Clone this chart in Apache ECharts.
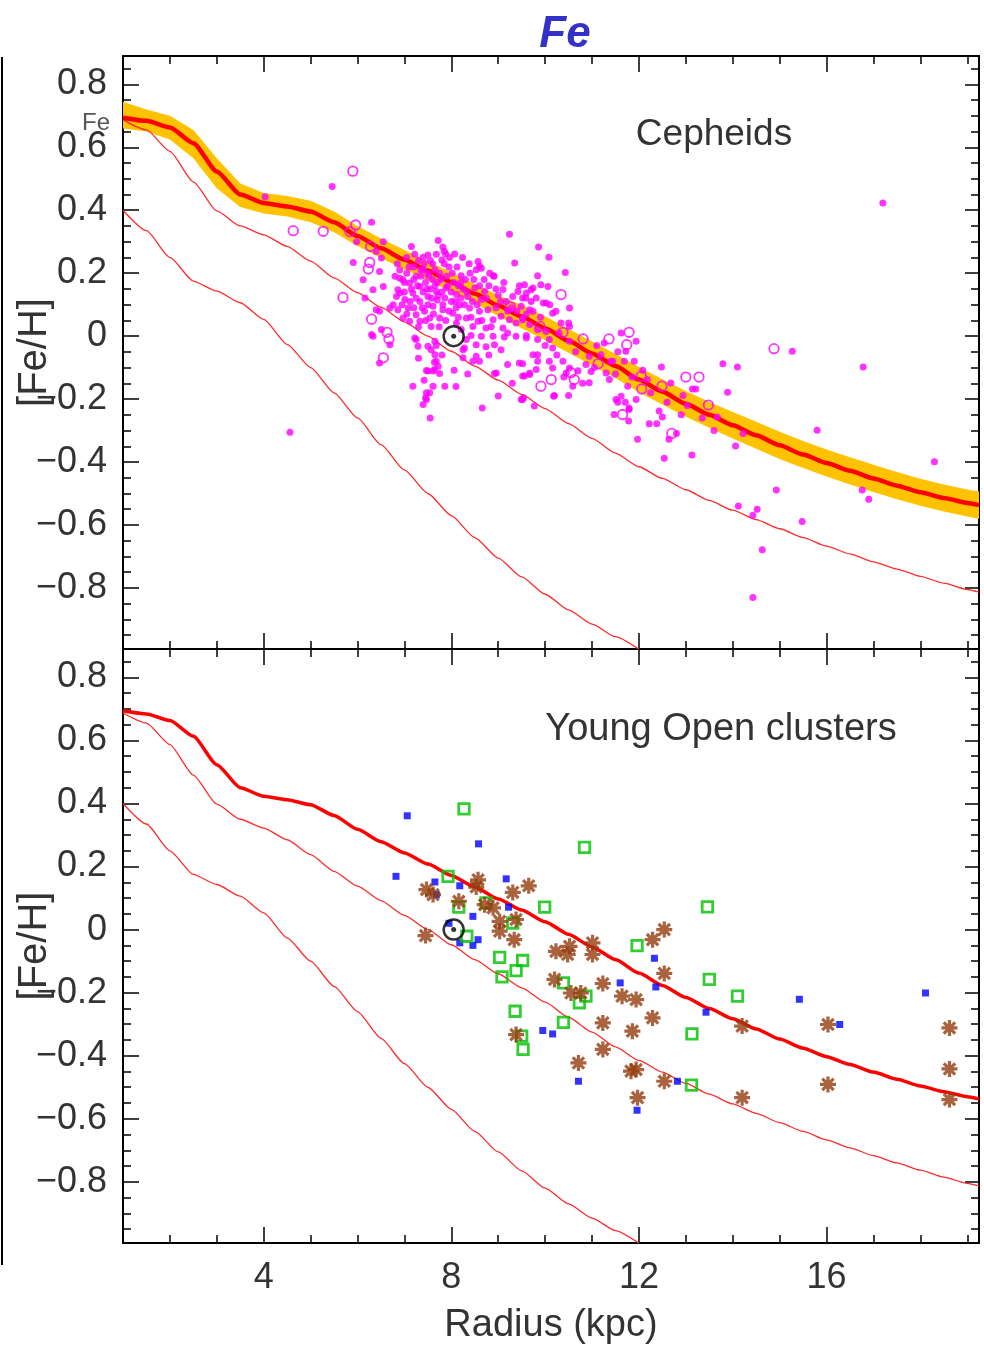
<!DOCTYPE html>
<html>
<head>
<meta charset="utf-8">
<script src="https://cdn.jsdelivr.net/npm/echarts@6/dist/echarts.min.js"></script>
<style>
html,body{margin:0;padding:0;background:#fff;}
#chart{width:984px;height:1355px;}
</style>
</head>
<body>
<div id="chart"></div>
<script>
// ---------------- DATA ----------------
const X_MIN = 1.0, X_MAX = 19.25, Y_MIN = -0.994, Y_MAX = 0.89;

const xMajorTicks = [4, 8, 12, 16];
const xMinorTicks = [1,2,3,4,5,6,7,8,9,10,11,12,13,14,15,16,17,18,19];
const yMajorTicks = [-0.8, -0.6, -0.4, -0.2, 0, 0.2, 0.4, 0.6, 0.8];
const yMinorTicks = [-0.95,-0.9,-0.85,-0.8,-0.75,-0.7,-0.65,-0.6,-0.55,-0.5,-0.45,-0.4,-0.35,-0.3,-0.25,-0.2,-0.15,-0.1,-0.05,0,0.05,0.1,0.15,0.2,0.25,0.3,0.35,0.4,0.45,0.5,0.55,0.6,0.65,0.7,0.75,0.8,0.85];

// model curves (radius grid, kpc)
const modelX = [1, 1.5, 2, 2.5, 3, 3.5, 4, 4.5, 5, 5.5, 6, 6.5, 7, 7.5, 8, 8.5, 9, 9.5, 10, 10.5, 11, 11.5, 12, 12.5, 13, 13.5, 14, 14.5, 15, 15.5, 16, 16.5, 17, 17.5, 18, 18.5, 19, 19.25];
// thick model line
const modelMain = [0.694, 0.684, 0.663, 0.613, 0.523, 0.45, 0.423, 0.412, 0.396, 0.362, 0.318, 0.279, 0.243, 0.208, 0.172, 0.135, 0.097, 0.062, 0.025, -0.015, -0.055, -0.095, -0.138, -0.177, -0.215, -0.25, -0.283, -0.315, -0.347, -0.376, -0.403, -0.428, -0.452, -0.475, -0.496, -0.514, -0.53, -0.537];
// uncertainty band around the thick line (Cepheid panel)
const bandHigh = [0.745, 0.72, 0.70, 0.655, 0.565, 0.485, 0.455, 0.445, 0.43, 0.396, 0.35, 0.31, 0.274, 0.239, 0.203, 0.166, 0.13, 0.099, 0.063, 0.023, -0.017, -0.057, -0.098, -0.137, -0.174, -0.209, -0.241, -0.272, -0.304, -0.333, -0.36, -0.385, -0.409, -0.432, -0.453, -0.471, -0.487, -0.494];
const bandLow  = [0.66, 0.65, 0.625, 0.565, 0.47, 0.41, 0.39, 0.38, 0.362, 0.33, 0.286, 0.248, 0.212, 0.177, 0.141, 0.104, 0.064, 0.025, -0.013, -0.053, -0.093, -0.133, -0.178, -0.217, -0.256, -0.291, -0.325, -0.358, -0.39, -0.419, -0.446, -0.471, -0.495, -0.518, -0.539, -0.557, -0.573, -0.58];
// thin model lines
const modelMid = [0.687, 0.655, 0.587, 0.49, 0.398, 0.35, 0.322, 0.285, 0.238, 0.185, 0.138, 0.092, 0.045, 0.0, -0.048, -0.095, -0.14, -0.185, -0.23, -0.278, -0.325, -0.372, -0.415, -0.452, -0.488, -0.522, -0.553, -0.583, -0.612, -0.64, -0.667, -0.692, -0.717, -0.74, -0.763, -0.785, -0.805, -0.813];
const modelLow = [0.40, 0.335, 0.25, 0.175, 0.143, 0.106, 0.053, -0.026, -0.10, -0.18, -0.26, -0.345, -0.425, -0.50, -0.57, -0.64, -0.705, -0.765, -0.82, -0.87, -0.915, -0.955, -0.995, null, null, null, null, null, null, null, null, null, null, null, null, null, null, null];

const sunPos = [8.05, 0.0];

// Cepheids: filled dots
const cepheidDots = [
 [4.03,0.443],[5.46,0.475],[4.56,-0.305],[17.2,0.423],[15.27,-0.048],[16.78,-0.098],[18.3,-0.399],[14.93,-0.489],[16.76,-0.489],[16.9,-0.518],
 [14.12,-0.54],[14.52,-0.55],[14.43,-0.569],[15.48,-0.589],[14.63,-0.679],[14.43,-0.83],[15.8,-0.299],
 [9.56,0.163],[9.74,0.153],[9.91,0.163],[9.81,0.121],[9.96,0.105],[9.59,0.121],[9.74,0.079],[10.16,0.073],[10.23,0.079],[10.52,0.089],
 [10.34,0.042],[10.5,0.042],[9.52,0.052],[9.6,-0.006],[9.84,-0.011],[10.09,-0.011],[10.52,-0.016],[10.16,-0.038],[9.84,-0.059],[9.84,-0.08],
 [10.09,-0.08],[10.38,-0.08],[10.16,-0.101],[10.52,-0.101],[9.52,-0.088],[9.56,-0.127],[9.67,-0.122],[9.49,-0.201],[10.2,-0.189],[10.5,-0.189],
 [10.59,-0.159],[10.94,-0.064],[10.87,-0.09],[11.3,-0.117],[11.37,-0.138],[11.44,-0.08],[11.69,-0.08],[11.9,-0.08],[11.94,-0.016],[11.72,-0.048],
 [11.62,0.01],[11.76,-0.159],[11.62,-0.191],[11.55,-0.21],[11.71,-0.21],[11.79,-0.228],[11.78,-0.27],[11.47,-0.249],[11.97,-0.328],[12.08,-0.108],
 [12.18,-0.138],[12.48,-0.098],[12.68,-0.149],[12.43,-0.238],[12.5,-0.257],[12.22,-0.278],[12.38,-0.278],[12.8,-0.309],[12.64,-0.328],[12.54,-0.388],
 [13.13,-0.378],[12.94,-0.189],[13.14,-0.168],[13.21,-0.168],[13.03,-0.22],[13.67,-0.257],[13.79,-0.088],[14.1,-0.098],[13.89,-0.178],[14.22,-0.309],[14.06,-0.349],
 [6.3,0.362],[5.98,0.3],[6.55,0.3],[5.91,0.234],[6.47,0.205],[6.16,0.121],[6.33,0.147],[6.47,0.079],[6.3,0.005],[6.69,-0.027],[6.47,-0.085],
 [9.24,0.324],[9.86,0.283],[10.08,0.251],[9.35,0.232],[8.64,0.216],[8.53,0.211],[8.91,0.19],[10.43,0.202],[9.84,0.192],[10.06,0.158],[9.7,0.147],
 [10.02,0.105],[10.52,0.031],[9.52,0.121],[9.67,0.084],[10.02,0.015],[10.45,-0.117],[10.18,-0.191],[9.54,-0.196],[9.45,-0.085],[9.67,-0.117],
 [8.96,-0.117],[8.66,-0.228],[8.46,-0.08],[8.25,-0.043],[7.86,-0.159],[8.06,-0.108],[7.18,-0.159],[7.47,-0.18],[7.45,-0.196],[7.61,-0.159],
 [7.47,-0.109],[7.64,-0.106],[7.64,-0.083],[10.94,-0.148],[10.98,-0.112],[11.51,-0.201],[11.79,-0.233],[11.94,-0.201],[11.26,-0.022],[11.19,-0.059],[11.4,-0.08],
 [6.12,0.179],[6.55,0.158],[6.9,0.184],[6.9,0.137],[6.76,0.1],[6.4,0.084],[6.51,0.021],[7.25,-0.011],[7.29,-0.032],
 [7.72,0.304],[7.15,0.285],[7.82,0.283],[7.88,0.261],[8.07,0.261],[7.5,0.258],[7.4,0.251],[7.8,0.242],[6.4,0.269],[6.51,0.248],[8.6,0.223],[8.9,0.192],[8.21,0.192],
 [6.97,0.179],[6.86,0.147],[7.11,0.169],[7.25,0.19],[7.4,0.211],[7.5,0.2],[7.65,0.211],[7.33,0.158],[7.18,0.137],[7.01,0.116],[6.83,0.126],[6.69,0.089],
 [7.08,0.089],[7.33,0.11],[7.5,0.126],[7.68,0.142],[7.89,0.153],[7.86,0.121],[8.0,0.11],[8.11,0.132],[8.18,0.1],[8.35,0.126],[8.5,0.153],[8.71,0.142],
 [8.64,0.116],[8.39,0.089],[8.6,0.079],[8.78,0.084],[8.03,0.073],[7.82,0.084],[7.61,0.095],[7.43,0.079],[7.25,0.068],[7.11,0.047],[7.33,0.047],[7.54,0.058],
 [7.75,0.058],[7.57,0.031],[6.97,0.058],[6.86,0.084],[8.11,0.042],[8.32,0.058],[8.46,0.031],[8.57,0.047],[8.74,0.026],[8.89,0.052],[9.06,0.063],[9.1,0.026],
 [9.24,0.052],[9.38,0.042],[9.52,0.058],[9.17,0.11],[9.31,0.126],[9.49,0.095],[9.67,0.037],[9.84,0.021],[9.6,0.002],[9.38,0.0],[9.13,-0.003],[8.89,0.0],
 [8.64,0.0],[8.42,0.002],[8.32,-0.011],[8.21,0.021],[8.53,-0.027],[8.74,-0.034],[8.92,-0.027],[9.06,-0.043],[8.28,-0.038],[8.53,-0.064],[7.65,-0.016],
 [7.5,-0.032],[7.57,-0.043],[7.22,-0.006],[7.65,-0.059],[7.68,-0.08],[7.72,-0.096],[7.61,-0.111],[7.5,-0.111],[7.75,-0.119],[8.25,-0.069],[8.92,-0.119],
 [9.74,-0.059],[9.81,-0.106],[9.52,-0.127],[7.54,-0.18],[7.47,-0.201],[7.4,-0.217],[9.52,-0.201],[9.77,-0.222],[6.33,0.0],
 [8.57,0.237],[9.42,0.142],[9.6,0.137],[9.1,0.148],
 [7.2,0.22],[7.3,0.24],[7.45,0.17],[7.55,0.15],[7.6,0.18],[7.7,0.17],[7.75,0.2],[7.9,0.19],[7.95,0.22],[8.05,0.17],[8.15,0.16],[8.25,0.15],
 [7.05,0.2],[7.15,0.15],[7.35,0.19],[7.4,0.14],[7.5,0.1],[7.7,0.115],[7.8,0.14],[7.95,0.08],[8.1,0.09],[7.25,0.12],[7.0,0.14],[6.9,0.21],
 [7.05,0.25],[7.6,0.23],[7.85,0.23],[8.3,0.18],[8.4,0.2],[8.7,0.18],[8.8,0.16],[9.0,0.13],[9.2,0.08],[8.95,0.09],[8.45,0.11],[8.2,0.12],
 [6.8,0.19],[6.85,0.23],[6.95,0.1],[7.0,0.17],[7.05,0.07],[7.1,0.22],[7.12,0.11],[7.2,0.18],[7.2,0.09],[7.22,0.26],[7.28,0.16],[7.3,0.03],
 [7.35,0.21],[7.38,0.09],[7.42,0.23],[7.45,0.05],[7.48,0.15],[7.52,0.19],[7.55,0.24],[7.58,0.12],[7.62,0.07],[7.65,0.16],[7.68,0.26],[7.72,0.13],
 [7.74,0.03],[7.78,0.18],[7.82,0.1],[7.85,0.27],[7.88,0.05],[7.92,0.16],[7.96,0.25],[8.0,0.14],[8.02,0.2],[8.08,0.11],[8.12,0.22],[8.15,0.06],
 [8.2,0.17],[8.24,0.25],[8.28,0.1],[8.33,0.14],[8.38,0.23],[8.42,0.06],[8.48,0.18],[8.55,0.1],[8.6,0.16],[8.65,0.05],[8.75,0.12],[8.82,0.2],
 [8.85,0.03],[8.95,0.15],[9.05,0.11],[9.12,0.17],[9.2,0.01],[9.28,0.09],[9.4,0.08],[9.45,0.16],[9.6,0.07],[9.7,0.11],[9.9,0.06],[10.0,-0.03],
 [10.1,0.1],[10.25,-0.06],[10.3,0.01],[10.4,-0.13],[10.65,-0.05],[10.7,-0.11],[10.8,-0.15],[11.05,-0.1],[11.1,-0.03],[11.5,-0.12],[11.55,-0.05],
 [11.85,-0.13],[12.25,-0.18],[12.6,-0.21],[12.9,-0.25],[13.35,-0.26],[13.6,-0.3],[7.3,-0.07],[7.42,-0.14],[7.55,-0.26],[7.68,-0.03],[7.8,-0.06],
 [8.1,-0.16],[8.35,-0.12],[8.6,-0.08],[8.8,-0.06],[9.2,-0.09],[9.3,-0.15],[9.0,-0.19]
];
// Cepheids: open circles
const cepheidOpen = [
 [4.63,0.335],[5.27,0.333],[5.9,0.524],[5.96,0.353],[5.84,0.332],[6.28,0.285],[6.26,0.234],[6.23,0.213],[5.69,0.123],[6.3,0.054],[6.63,0.012],
 [6.67,-0.009],[6.55,-0.069],[9.26,0.093],[9.89,0.031],[10.34,0.132],[10.38,0.012],[10.81,-0.009],[11.36,-0.009],[11.79,0.012],[11.74,-0.027],
 [10.55,-0.116],[10.62,-0.138],[10.13,-0.138],[9.91,-0.159],[11.13,-0.088],[11.65,-0.249],[12.05,-0.127],[12.06,-0.168],[12.49,-0.159],[13.0,-0.13],
 [13.28,-0.13],[13.48,-0.219],[12.7,-0.309],[14.88,-0.04]
];

// Young open clusters (three samples)
const clustersBlue = [
 [7.06,0.361],[8.58,0.272],[6.82,0.169],[7.65,0.151],[8.18,0.139],[8.46,0.042],[8.18,-0.042],[8.46,-0.05],[8.57,-0.032],[7.68,0.111],[7.95,0.02],
 [9.17,0.161],[9.22,0.071],[12.33,-0.091],[11.6,-0.169],[12.36,-0.182],[13.43,-0.262],[9.95,-0.32],[10.16,-0.331],[10.71,-0.481],[12.82,-0.481],
 [11.96,-0.573],[15.42,-0.221],[16.28,-0.301],[18.11,-0.201]
];
const clustersGreen = [
 [8.27,0.383],[10.84,0.261],[7.93,0.169],[9.99,0.071],[8.74,0.085],[8.16,0.071],[8.33,-0.021],[9.03,-0.088],[9.52,-0.098],[9.31,0.021],[13.46,0.072],
 [11.96,-0.051],[9.38,-0.13],[9.08,-0.15],[10.39,-0.169],[13.5,-0.158],[14.1,-0.211],[10.87,-0.211],[10.73,-0.232],[9.36,-0.259],[10.39,-0.294],
 [13.13,-0.331],[9.5,-0.338],[9.53,-0.38],[13.12,-0.493]
];
const clustersBrown = [
 [7.47,0.127],[7.61,0.111],[8.57,0.158],[8.53,0.135],[9.31,0.118],[9.65,0.139],[8.16,0.09],[8.71,0.079],[8.89,0.069],[7.45,-0.019],[9.03,0.026],
 [9.38,0.032],[9.03,-0.005],[9.34,-0.032],[10.23,-0.069],[10.52,-0.053],[11.01,-0.042],[10.48,-0.079],[11.01,-0.079],[12.29,-0.032],[12.54,0.0],
 [12.54,-0.139],[10.2,-0.158],[11.23,-0.171],[10.55,-0.201],[10.76,-0.201],[11.64,-0.211],[11.94,-0.222],[12.29,-0.28],[11.23,-0.296],[11.86,-0.322],
 [9.38,-0.333],[11.23,-0.38],[10.71,-0.423],[11.94,-0.444],[11.83,-0.449],[12.54,-0.481],[11.97,-0.533],[14.2,-0.306],[14.2,-0.533],[16.03,-0.301],
 [16.03,-0.491],[18.62,-0.312],[18.62,-0.442],[18.62,-0.539]
];

// ---------------- CHART ----------------
const FONT = 'Liberation Sans';
const TXT = '#333';
const chart = echarts.init(document.getElementById('chart'), null, {renderer: 'canvas'});

const grids = [
  {left: 123, top: 56, width: 856, height: 593, containLabel: false, outerBoundsMode: 'none'},
  {left: 123, top: 649, width: 856, height: 594, containLabel: false, outerBoundsMode: 'none'}
];

function fmtY(v) {
  if (Math.abs(v) < 1e-9) return '0';
  return (v < 0 ? '\u2212' : '') + Math.abs(v).toFixed(1);
}

function makeX(g, withLabels) {
  const base = {gridIndex: g, type: 'value', min: X_MIN, max: X_MAX, splitLine: {show: false}, silent: true};
  const line = {show: true, onZero: false, lineStyle: {color: '#000', width: 2}};
  const noLine = {show: false, onZero: false};
  const tickMaj = () => ({show: true, inside: true, length: 16, customValues: xMajorTicks, lineStyle: {color: '#000', width: 1.5}});
  const tickMin = {show: true, inside: true, length: 8, customValues: xMinorTicks, lineStyle: {color: '#000', width: 1.5}};
  const bottomMajor = Object.assign({}, base, {
    position: 'bottom', axisLine: line, axisTick: tickMaj(),
    axisLabel: withLabels ? {show: true, customValues: xMajorTicks, margin: 17, fontSize: 36, color: TXT, fontFamily: FONT} : {show: false}
  });
  if (withLabels) {
    bottomMajor.name = 'Radius (kpc)';
    bottomMajor.nameLocation = 'middle';
    bottomMajor.nameGap = 64;
    bottomMajor.nameMoveOverlap = false;
    bottomMajor.nameTextStyle = {fontSize: 38, color: TXT, fontFamily: FONT};
  }
  return [
    bottomMajor,
    Object.assign({}, base, {position: 'bottom', axisLine: noLine, axisTick: tickMin, axisLabel: {show: false}}),
    Object.assign({}, base, {position: 'top', axisLine: line, axisTick: tickMaj(), axisLabel: {show: false}}),
    Object.assign({}, base, {position: 'top', axisLine: noLine, axisTick: tickMin, axisLabel: {show: false}})
  ];
}

function makeY(g) {
  const base = {gridIndex: g, type: 'value', min: Y_MIN, max: Y_MAX, splitLine: {show: false}, silent: true};
  const line = {show: true, onZero: false, lineStyle: {color: '#000', width: 2}};
  const noLine = {show: false, onZero: false};
  const tickMaj = {show: true, inside: true, length: 16, customValues: yMajorTicks, lineStyle: {color: '#000', width: 1.5}};
  const tickMin = {show: true, inside: true, length: 8, customValues: yMinorTicks, lineStyle: {color: '#000', width: 1.5}};
  return [
    Object.assign({}, base, {
      position: 'left', axisLine: line, axisTick: tickMaj,
      axisLabel: {show: true, customValues: yMajorTicks, formatter: fmtY, margin: 16, fontSize: 36, color: TXT, fontFamily: FONT},
      name: '[Fe/H]', nameLocation: 'middle', nameRotate: 90, nameGap: 68, nameMoveOverlap: false,
      nameTextStyle: {fontSize: 40, color: TXT, fontFamily: FONT}
    }),
    Object.assign({}, base, {position: 'left', axisLine: noLine, axisTick: tickMin, axisLabel: {show: false}}),
    Object.assign({}, base, {position: 'right', axisLine: line, axisTick: {show: true, inside: true, length: 14, customValues: yMajorTicks, lineStyle: {color: '#000', width: 1.5}}, axisLabel: {show: false}}),
    Object.assign({}, base, {position: 'right', axisLine: noLine, axisTick: tickMin, axisLabel: {show: false}})
  ];
}

const pairs = (ys) => modelX.map((x, i) => [x, ys[i]]);

function modelLines(ax, thickWidth) {
  return [
    {type: 'line', xAxisIndex: ax, yAxisIndex: ax, data: pairs(modelLow), symbol: 'none', smooth: 0.2, smoothMonotone: 'x',
     lineStyle: {color: '#ff2a2a', width: 1.3}, z: 3, silent: true, animation: false},
    {type: 'line', xAxisIndex: ax, yAxisIndex: ax, data: pairs(modelMid), symbol: 'none', smooth: 0.2, smoothMonotone: 'x',
     lineStyle: {color: '#ff2a2a', width: 1.3}, z: 3, silent: true, animation: false},
    {type: 'line', xAxisIndex: ax, yAxisIndex: ax, data: pairs(modelMain), symbol: 'none', smooth: 0.2, smoothMonotone: 'x',
     lineStyle: {color: '#ff0000', width: thickWidth}, z: 4, silent: true, animation: false}
  ];
}

function sunSeries(ax) {
  return [
    {type: 'scatter', xAxisIndex: ax, yAxisIndex: ax, data: [sunPos], symbol: 'circle', symbolSize: 20,
     itemStyle: {color: 'rgba(255,255,255,0)', borderColor: '#000', borderWidth: 2.5}, z: 10, silent: true, animation: false},
    {type: 'scatter', xAxisIndex: ax, yAxisIndex: ax, data: [sunPos], symbol: 'circle', symbolSize: 5,
     itemStyle: {color: '#000'}, z: 10, silent: true, animation: false}
  ];
}

const series = [
  // band (top panel)
  {type: 'custom', xAxisIndex: 0, yAxisIndex: 0, data: [[modelX[0], bandLow[0]]], z: 2, silent: true, animation: false,
   renderItem: function (params, api) {
     const pts = [];
     for (let i = 0; i < modelX.length; i++) pts.push(api.coord([modelX[i], bandHigh[i]]));
     for (let i = modelX.length - 1; i >= 0; i--) pts.push(api.coord([modelX[i], bandLow[i]]));
     return {type: 'polygon', shape: {points: pts}, style: {fill: '#ffc200'}};
   }},
  ...modelLines(0, 4.5),
  {type: 'scatter', xAxisIndex: 0, yAxisIndex: 0, data: cepheidDots, symbol: 'circle', symbolSize: 7,
   itemStyle: {color: '#ff00ff'}, z: 6, silent: true, animation: false},
  {type: 'scatter', xAxisIndex: 0, yAxisIndex: 0, data: cepheidOpen, symbol: 'circle', symbolSize: 9.5,
   itemStyle: {color: 'rgba(255,255,255,0)', borderColor: '#ff00ff', borderWidth: 1.8}, z: 6, silent: true, animation: false},
  ...sunSeries(0),

  ...modelLines(4, 3.5),
  {type: 'scatter', xAxisIndex: 4, yAxisIndex: 4, data: clustersBlue, symbol: 'rect', symbolSize: 7,
   itemStyle: {color: '#0000ff'}, z: 6, silent: true, animation: false},
  {type: 'scatter', xAxisIndex: 4, yAxisIndex: 4, data: clustersGreen, symbol: 'rect', symbolSize: 10.5,
   itemStyle: {color: 'rgba(255,255,255,0)', borderColor: '#00c000', borderWidth: 2.8}, z: 7, silent: true, animation: false},
  {type: 'scatter', xAxisIndex: 4, yAxisIndex: 4, data: clustersBrown,
   symbol: 'path://M0,-9L0,9M-9,0L9,0M-6.4,-6.4L6.4,6.4M-6.4,6.4L6.4,-6.4', symbolSize: 16, symbolKeepAspect: true,
   itemStyle: {color: 'rgba(255,255,255,0)', borderColor: '#943c0e', borderWidth: 3.2}, z: 8, silent: true, animation: false},
  ...sunSeries(4)
];

const option = {
  backgroundColor: '#ffffff',
  animation: false,
  grid: grids,
  xAxis: [...makeX(0, false), ...makeX(1, true)],
  yAxis: [...makeY(0), ...makeY(1)],
  series: series,
  graphic: [
    {type: 'line', shape: {x1: 2, y1: 57, x2: 2, y2: 1265}, style: {stroke: '#000', lineWidth: 2}, silent: true},
    {type: 'text', x: 565, y: 35, style: {text: 'Fe', align: 'center', verticalAlign: 'middle', fontSize: 44, fontWeight: 'bold', fontStyle: 'italic', fontFamily: FONT, fill: '#3232c8'}},
    {type: 'text', x: 96, y: 123, z: 20, style: {text: 'Fe', align: 'center', verticalAlign: 'middle', fontSize: 24, fontFamily: FONT, fill: '#555'}},
    {type: 'text', x: 714, y: 135, z: 20, style: {text: 'Cepheids', align: 'center', verticalAlign: 'middle', fontSize: 37, fontFamily: FONT, fill: TXT}},
    {type: 'text', x: 721, y: 730, z: 20, style: {text: 'Young Open clusters', align: 'center', verticalAlign: 'middle', fontSize: 38, fontFamily: FONT, fill: TXT}}
  ]
};
chart.setOption(option);
</script>
</body>
</html>
